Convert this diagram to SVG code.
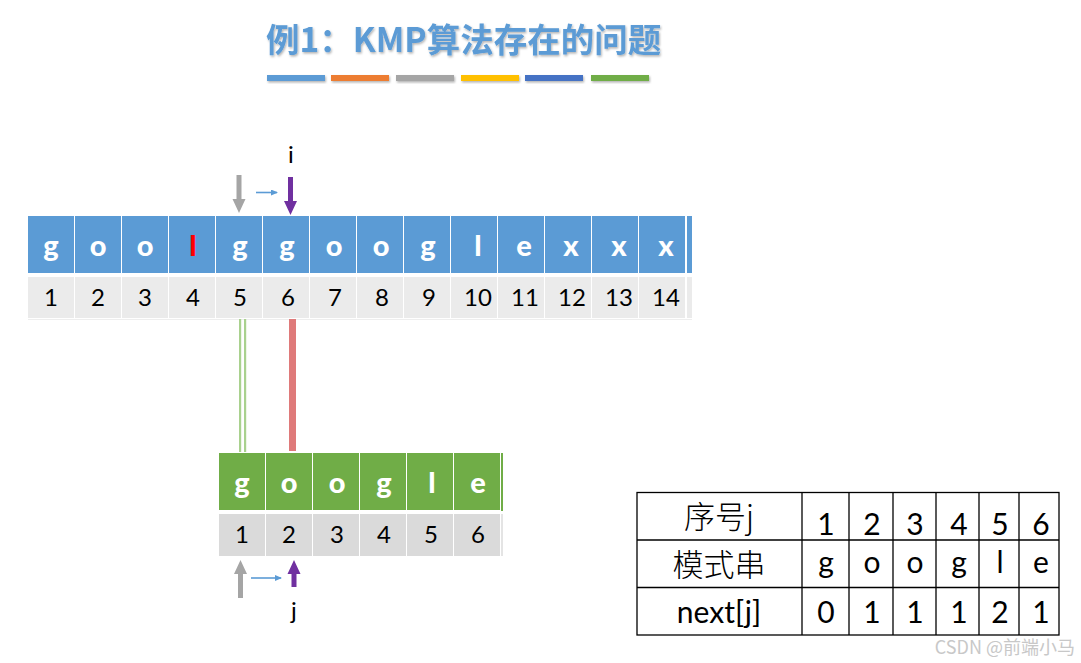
<svg xmlns="http://www.w3.org/2000/svg" width="1081" height="663" viewBox="0 0 1081 663">
<defs>
<style>
.t{font-family:Lato,"Open Sans","Liberation Sans",sans-serif}
.lt{font-family:Lato,"Open Sans","Liberation Sans",sans-serif;font-weight:900;font-size:29px;fill:#fff;text-anchor:middle}
.num{font-family:Lato,"Open Sans","Liberation Sans",sans-serif;font-size:24px;fill:#000;text-anchor:middle}
.tb{font-family:Lato,"Open Sans","Liberation Sans","Noto Sans CJK SC",sans-serif;font-size:30px;fill:#000;text-anchor:middle}
.cj{font-family:"Noto Sans CJK SC",sans-serif;font-weight:300;font-size:31px;fill:#000;text-anchor:middle}
.blue{fill:#5B9BD5}
.green{fill:#70AD47}
.g1{fill:#EBEBEB}
.g2{fill:#DADADA}
.grid{stroke:#000;stroke-width:1.3;fill:none}
</style>
<filter id="sh" x="-5%" y="-20%" width="110%" height="160%">
<feDropShadow dx="1" dy="1.5" stdDeviation="1" flood-color="#000" flood-opacity="0.3"/>
</filter>
<marker id="ah" markerWidth="8" markerHeight="8" refX="6" refY="3" orient="auto" markerUnits="userSpaceOnUse">
<path d="M0,0 L7,3 L0,6 Z" fill="#5B9BD5"/>
</marker>
</defs>
<rect width="1081" height="663" fill="#fff"/>

<g id="title">
<text x="266" y="52" font-family="'Noto Sans CJK SC',sans-serif" font-weight="bold" font-size="33.5" fill="#5B9BD5" filter="url(#sh)">例1：KMP算法存在的问题</text>
<g filter="url(#sh)">
<rect x="267" y="75" width="58" height="6" fill="#5B9BD5"/>
<rect x="331" y="75" width="58" height="6" fill="#ED7D31"/>
<rect x="396" y="75" width="58" height="6" fill="#A5A5A5"/>
<rect x="461" y="75" width="58" height="6" fill="#FFC000"/>
<rect x="525" y="75" width="58" height="6" fill="#4472C4"/>
<rect x="591" y="75" width="58" height="6" fill="#70AD47"/>
</g>
</g>

<g id="mainString">
<rect class="blue" x="28" y="216" width="46" height="57"/>
<rect class="blue" x="75" y="216" width="46" height="57"/>
<rect class="blue" x="122" y="216" width="46" height="57"/>
<rect class="blue" x="169" y="216" width="46" height="57"/>
<rect class="blue" x="216" y="216" width="46" height="57"/>
<rect class="blue" x="263" y="216" width="46" height="57"/>
<rect class="blue" x="310" y="216" width="46" height="57"/>
<rect class="blue" x="357" y="216" width="46" height="57"/>
<rect class="blue" x="404" y="216" width="46" height="57"/>
<rect class="blue" x="451" y="216" width="46" height="57"/>
<rect class="blue" x="498" y="216" width="46" height="57"/>
<rect class="blue" x="545" y="216" width="46" height="57"/>
<rect class="blue" x="592" y="216" width="46" height="57"/>
<rect class="blue" x="639" y="216" width="46" height="57"/>
<rect class="blue" x="687" y="216" width="5" height="57"/>
<rect class="g1" x="28" y="277" width="46" height="41"/>
<rect class="g1" x="75" y="277" width="46" height="41"/>
<rect class="g1" x="122" y="277" width="46" height="41"/>
<rect class="g1" x="169" y="277" width="46" height="41"/>
<rect class="g1" x="216" y="277" width="46" height="41"/>
<rect class="g1" x="263" y="277" width="46" height="41"/>
<rect class="g1" x="310" y="277" width="46" height="41"/>
<rect class="g1" x="357" y="277" width="46" height="41"/>
<rect class="g1" x="404" y="277" width="46" height="41"/>
<rect class="g1" x="451" y="277" width="46" height="41"/>
<rect class="g1" x="498" y="277" width="46" height="41"/>
<rect class="g1" x="545" y="277" width="46" height="41"/>
<rect class="g1" x="592" y="277" width="46" height="41"/>
<rect class="g1" x="639" y="277" width="46" height="41"/>
<rect class="g1" x="687" y="277" width="5" height="41"/>
<rect x="28" y="319" width="664" height="1" fill="#EEEEEE"/>
<text class="lt" x="51" y="256">g</text>
<text class="lt" x="98" y="256">o</text>
<text class="lt" x="145" y="256">o</text>
<text class="lt" x="193" y="256" style="fill:#FF0000">l</text>
<text class="lt" x="240" y="256">g</text>
<text class="lt" x="287" y="256">g</text>
<text class="lt" x="334" y="256">o</text>
<text class="lt" x="381" y="256">o</text>
<text class="lt" x="428" y="256">g</text>
<text class="lt" x="478" y="256">l</text>
<text class="lt" x="524" y="256">e</text>
<text class="lt" x="571" y="256">x</text>
<text class="lt" x="619" y="256">x</text>
<text class="lt" x="666" y="256">x</text>
<text class="num" x="51" y="306">1</text>
<text class="num" x="98" y="306">2</text>
<text class="num" x="145" y="306">3</text>
<text class="num" x="193" y="306">4</text>
<text class="num" x="240" y="306">5</text>
<text class="num" x="288" y="306">6</text>
<text class="num" x="335" y="306">7</text>
<text class="num" x="382" y="306">8</text>
<text class="num" x="429" y="306">9</text>
<text class="num" x="478" y="306">10</text>
<text class="num" x="525" y="306">11</text>
<text class="num" x="572" y="306">12</text>
<text class="num" x="619" y="306">13</text>
<text class="num" x="666" y="306">14</text>
</g>

<g id="pattern">
<rect class="green" x="219" y="453" width="46" height="57"/>
<rect class="green" x="266" y="453" width="46" height="57"/>
<rect class="green" x="313" y="453" width="46" height="57"/>
<rect class="green" x="360" y="453" width="46" height="57"/>
<rect class="green" x="407" y="453" width="46" height="57"/>
<rect class="green" x="454" y="453" width="46" height="57"/>
<rect class="green" x="501" y="453" width="2" height="58"/>
<rect class="g2" x="219" y="514" width="46" height="42"/>
<rect class="g2" x="266" y="514" width="46" height="42"/>
<rect class="g2" x="313" y="514" width="46" height="42"/>
<rect class="g2" x="360" y="514" width="46" height="42"/>
<rect class="g2" x="407" y="514" width="46" height="42"/>
<rect class="g2" x="454" y="514" width="46" height="42"/>
<rect x="501" y="514" width="2" height="42" fill="#E4E4E4"/>
<text class="lt" x="242" y="493">g</text>
<text class="lt" x="289" y="493">o</text>
<text class="lt" x="337" y="493">o</text>
<text class="lt" x="384" y="493">g</text>
<text class="lt" x="432" y="493">l</text>
<text class="lt" x="478" y="493">e</text>
<text class="num" x="242" y="543">1</text>
<text class="num" x="289" y="543">2</text>
<text class="num" x="337" y="543">3</text>
<text class="num" x="384" y="543">4</text>
<text class="num" x="431" y="543">5</text>
<text class="num" x="478" y="543">6</text>
</g>

<g id="labels">
<text class="t" x="291" y="163" font-size="24" text-anchor="middle">i</text>
<text class="t" x="294" y="619" font-size="24" text-anchor="middle">j</text>
</g>

<g id="connectors">
<rect x="239" y="319" width="2.2" height="133" fill="#A9D18E"/>
<rect x="244" y="319" width="2.2" height="133" fill="#A9D18E"/>
<rect x="289" y="319" width="7" height="132" fill="#DF7A7A"/>
<polygon points="236.5,175 241.5,175 241.5,199 245.5,199 239,213 232.5,199 236.5,199" fill="#A5A5A5"/>
<polygon points="288,177 293,177 293,201 297,201 290.5,215 284,201 288,201" fill="#7030A0"/>
<line x1="256" y1="192.5" x2="277" y2="192.5" stroke="#5B9BD5" stroke-width="1.6" marker-end="url(#ah)"/>
<polygon points="238,598 243,598 243,574 247,574 240.5,560 234,574 238,574" fill="#A5A5A5"/>
<polygon points="291.5,587 296.5,587 296.5,574 300.5,574 294,560 287.5,574 291.5,574" fill="#7030A0"/>
<line x1="251" y1="578" x2="281" y2="578" stroke="#5B9BD5" stroke-width="1.6" marker-end="url(#ah)"/>
</g>

<g id="nextTable">
<rect class="grid" x="637" y="492.5" width="422" height="142.5"/>
<line class="grid" x1="637" y1="540" x2="1059" y2="540"/>
<line class="grid" x1="637" y1="587.5" x2="1059" y2="587.5"/>
<line class="grid" x1="802" y1="492.5" x2="802" y2="635"/>
<line class="grid" x1="849" y1="492.5" x2="849" y2="635"/>
<line class="grid" x1="893" y1="492.5" x2="893" y2="635"/>
<line class="grid" x1="936" y1="492.5" x2="936" y2="635"/>
<line class="grid" x1="979" y1="492.5" x2="979" y2="635"/>
<line class="grid" x1="1019" y1="492.5" x2="1019" y2="635"/>
<text class="cj" x="719" y="528">序号j</text>
<text class="cj" x="719" y="576">模式串</text>
<text class="tb" x="719" y="623">next[j]</text>
<text class="tb" x="826" y="535">1</text>
<text class="tb" x="872" y="535">2</text>
<text class="tb" x="915" y="535">3</text>
<text class="tb" x="959" y="535">4</text>
<text class="tb" x="1000" y="535">5</text>
<text class="tb" x="1041" y="535">6</text>
<text class="tb" x="826" y="573">g</text>
<text class="tb" x="872" y="573">o</text>
<text class="tb" x="915" y="573">o</text>
<text class="tb" x="959" y="573">g</text>
<text class="tb" x="1000" y="573">l</text>
<text class="tb" x="1041" y="573">e</text>
<text class="tb" x="826" y="623">0</text>
<text class="tb" x="872" y="623">1</text>
<text class="tb" x="915" y="623">1</text>
<text class="tb" x="959" y="623">1</text>
<text class="tb" x="1000" y="623">2</text>
<text class="tb" x="1041" y="623">1</text>
</g>

<g id="watermark">
<text x="1075" y="654" font-family="'Noto Sans CJK SC',sans-serif" font-size="18" fill="#C8C8C8" text-anchor="end">CSDN @前端小马</text>
</g>
</svg>
